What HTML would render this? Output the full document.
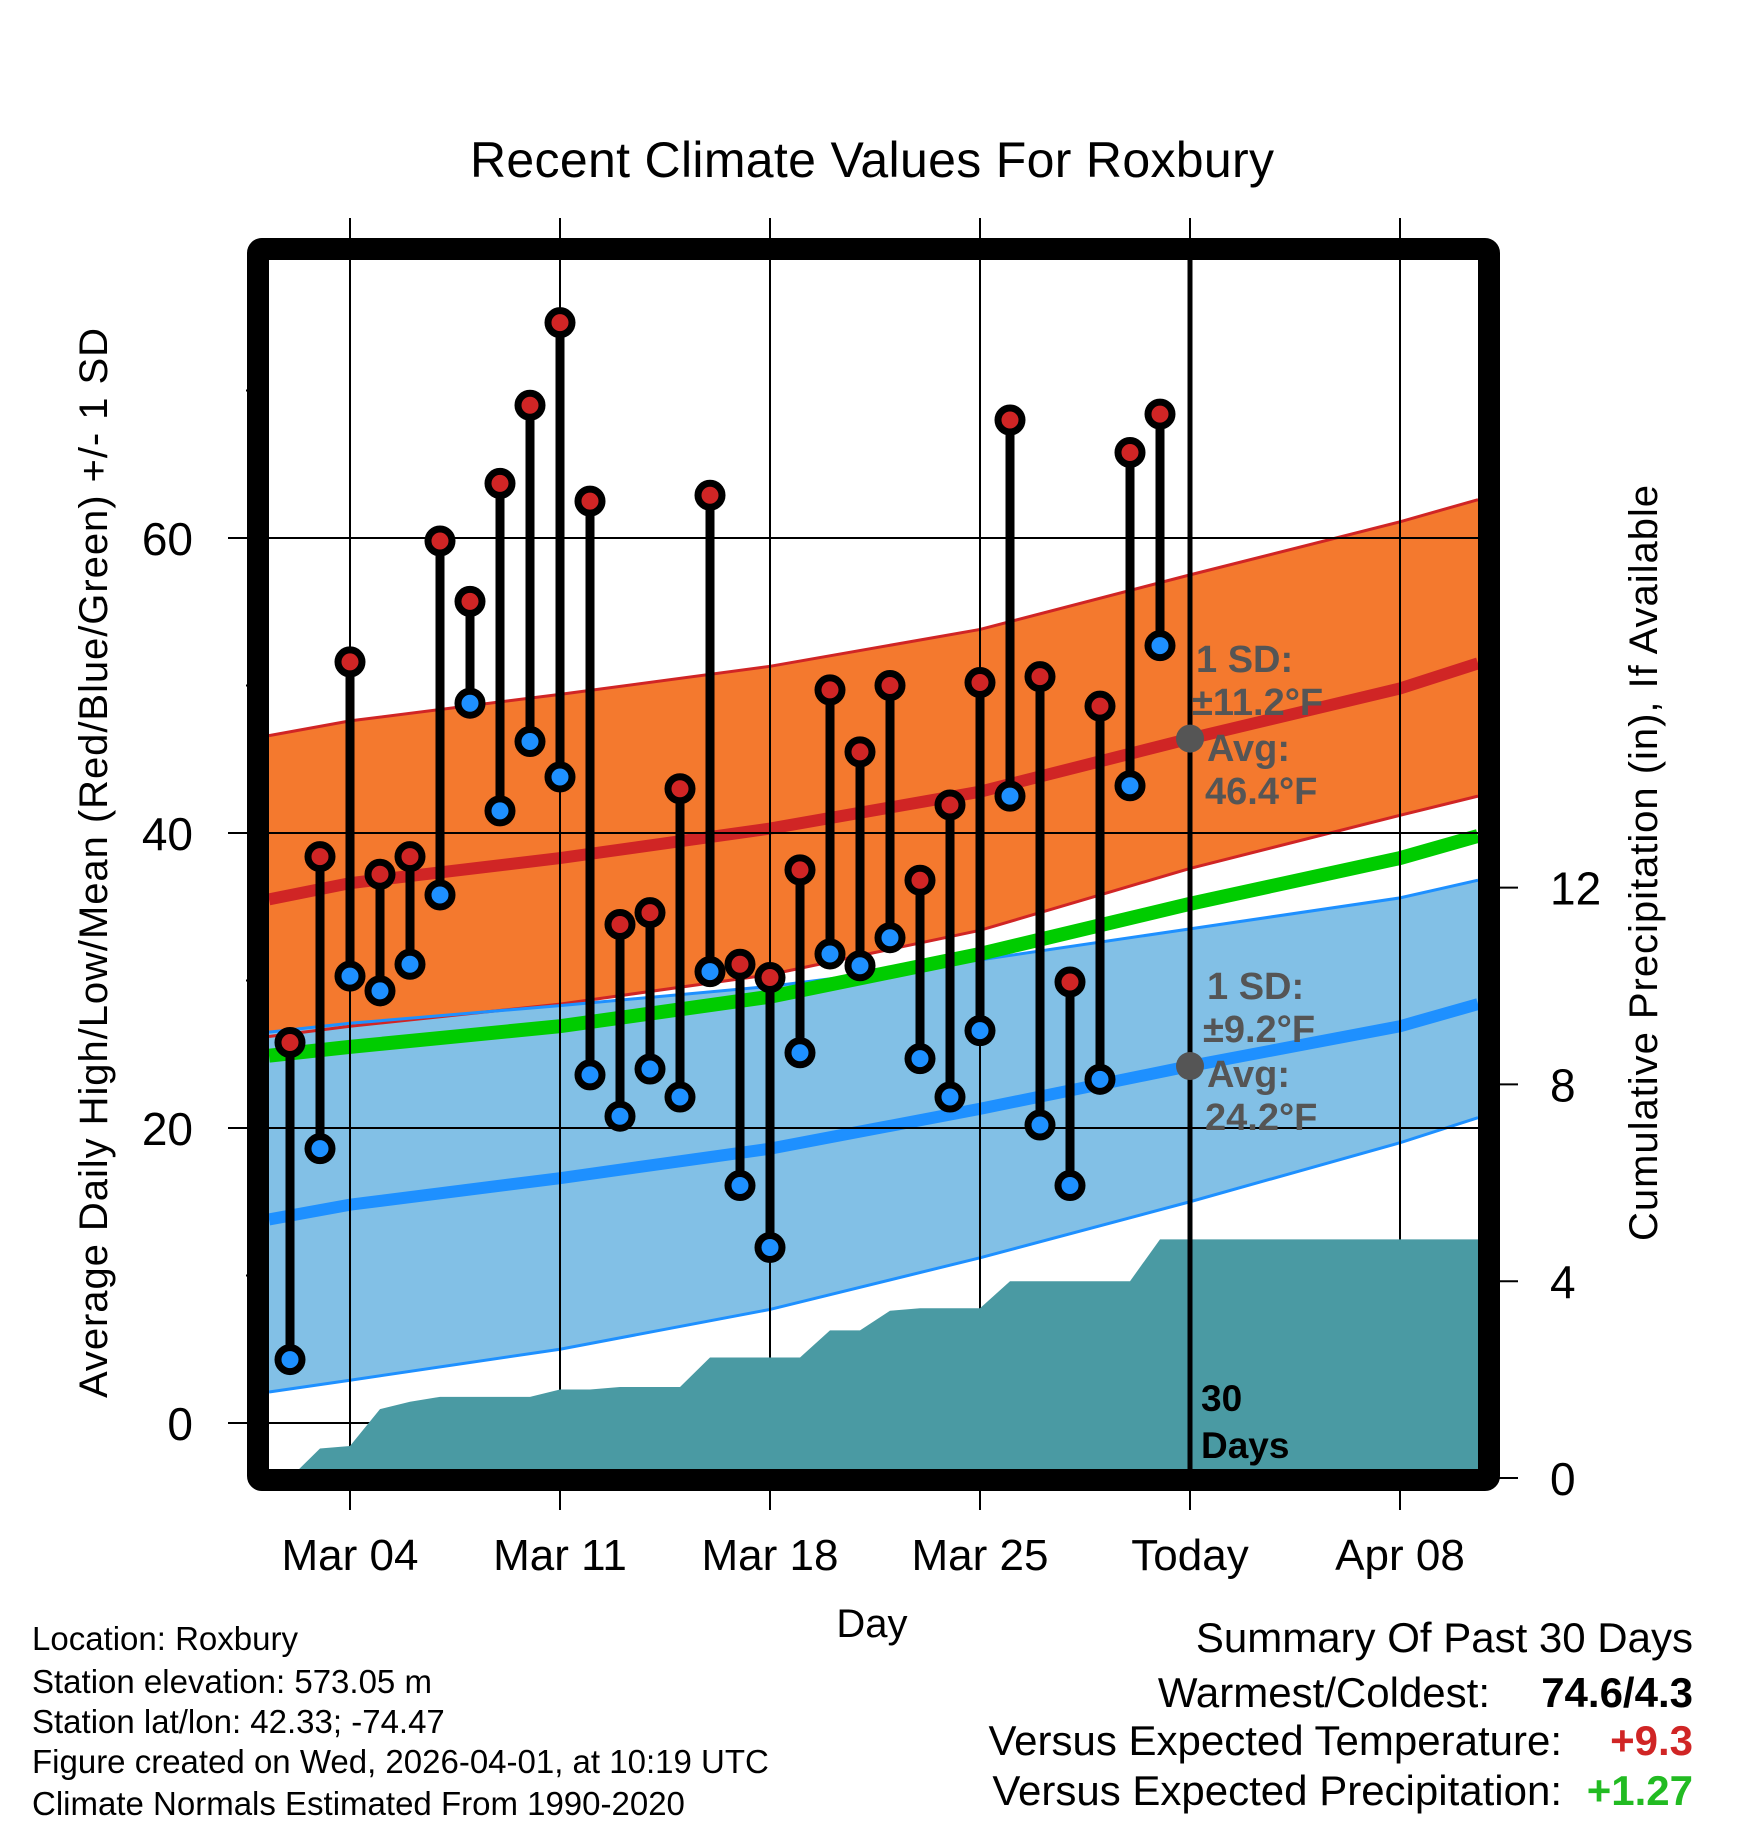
<!DOCTYPE html>
<html><head><meta charset="utf-8"><style>
html,body{margin:0;padding:0;background:#fff;}
svg{display:block;font-family:"Liberation Sans",Arial,sans-serif;}
</style></head><body>
<svg id="chart" width="1748" height="1828" viewBox="0 0 1748 1828" xmlns="http://www.w3.org/2000/svg">
<g id="bands"></g><g id="grid"></g><g id="precip"></g><g id="stems"></g><g id="frame"></g><g id="labels"></g>
</svg>
<script>
// ---- data ----
const dayLabels = ["Mar 04","Mar 11","Mar 18","Mar 25","Today","Apr 08"];
const dayTicks = [3,10,17,24,31,38];             // days since Mar 1
const obsDays = [1,2,3,4,5,6,7,8,9,10,11,12,13,14,15,16,17,18,19,20,21,22,23,24,25,26,27,28,29,30];
const highs = [25.8,38.4,51.6,37.2,38.4,59.8,55.7,63.7,69.0,74.6,62.5,33.8,34.6,43.0,62.9,31.1,30.2,37.5,49.7,45.5,50.0,36.8,41.9,50.2,68.0,50.6,29.9,48.6,65.8,68.4];
const lows  = [4.3,18.6,30.3,29.3,31.1,35.8,48.8,41.5,46.2,43.8,23.6,20.8,24.0,22.1,30.6,16.1,11.9,25.1,31.8,31.0,32.9,24.7,22.1,26.6,42.5,20.2,16.1,23.3,43.2,52.7];
const normDays = [0.3,3,10,17,24,31,38,40.6];
const normHigh = [35.5,36.6,38.3,40.3,42.8,46.4,49.8,51.5];
const highUpper = [46.6,47.6,49.4,51.3,53.8,57.5,61.1,62.6];
const highLower = [26.2,26.9,28.4,30.4,33.4,37.6,41.2,42.5];
const normLow = [13.8,14.8,16.6,18.6,21.3,24.2,26.9,28.4];
const lowUpper = [26.5,27.1,28.3,29.6,31.4,33.5,35.6,36.8];
const lowLower = [2.1,2.9,5.0,7.7,11.2,15.0,19.0,20.7];
const normMean = [24.9,25.5,26.9,28.9,31.8,35.2,38.3,39.8];
const precipDays = [0.3,1,2,3,4,5,6,7,8,9,10,11,12,13,14,15,16,17,18,19,20,21,22,23,24,25,26,27,28,29,30,31,40.6];
const precipVals = [0,0,0.6,0.65,1.4,1.55,1.65,1.65,1.65,1.65,1.8,1.8,1.85,1.85,1.85,2.45,2.45,2.45,2.45,3.0,3.0,3.4,3.45,3.45,3.45,4.0,4.0,4.0,4.0,4.0,4.85,4.85,4.85];
const tempTicks = [0,20,40,60];
const minorTicks = [10,30,50,70];
const precipTicks = [0,4,8,12];

// ---- axes ----
const X0=269,X1=1478,Y0=260,Y1=1469;
const x = d => 260 + d*30;
const y = v => 1423 - v*14.75;
const py = p => 1478 - p*49.2;
const NS="http://www.w3.org/2000/svg";
function mk(tag, parent, attrs){const e=document.createElementNS(NS,tag);for(const k in attrs)e.setAttribute(k,attrs[k]);document.getElementById(parent).appendChild(e);return e;}
function band(up,lo){let s="";normDays.forEach((d,i)=>s+=(i?"L":"M")+x(d)+","+y(up[i]));for(let i=normDays.length-1;i>=0;i--)s+="L"+x(normDays[i])+","+y(lo[i]);return s+"Z";}
function line(arr){let s="";normDays.forEach((d,i)=>s+=(i?"L":"M")+x(d)+","+y(arr[i]));return s;}

let e;
e=mk("path","bands",{d:band(highUpper,highLower),fill:"#f4792e"});


e=mk("path","bands",{d:band(lowUpper,lowLower),fill:"#82c0e6"});


[[highUpper,"#d02525",3],[highLower,"#d02525",3],[lowUpper,"#1e90ff",3],[lowLower,"#1e90ff",3]].forEach(a=>{
  e=mk("path","bands",{d:line(a[0]),fill:"none",stroke:a[1],"stroke-width":a[2]});
  
  
});
e=mk("path","bands",{d:line(normMean),fill:"none",stroke:"#00cc00","stroke-width":14});


e=mk("path","bands",{d:line(normHigh),fill:"none",stroke:"#d02525","stroke-width":12});


e=mk("path","bands",{d:line(normLow),fill:"none",stroke:"#1e90ff","stroke-width":12});



// grid
tempTicks.forEach(v=>{
  e=mk("line","grid",{x1:228,x2:X1,y1:y(v),y2:y(v),stroke:"#000","stroke-width":2});
  
  
  e=mk("text","labels",{x:193,y:y(v)+17,"font-size":46,"text-anchor":"end"});e.textContent=v;
  
  
});
minorTicks.forEach(v=>{
  e=mk("line","grid",{x1:246,x2:X0,y1:y(v),y2:y(v),stroke:"#000","stroke-width":2});
  
  
});
dayTicks.forEach((d,i)=>{
  e=mk("line","grid",{x1:x(d),x2:x(d),y1:218,y2:1510,stroke:"#000","stroke-width":2});
  
  
  e=mk("text","labels",{x:x(d),y:1570,"font-size":44,"text-anchor":"middle"});e.textContent=dayLabels[i];
  
  
});
precipTicks.forEach(p=>{
  e=mk("line","grid",{x1:X1,x2:1518,y1:py(p),y2:py(p),stroke:"#000","stroke-width":2});
  
  
  e=mk("text","labels",{x:1550,y:py(p)+17,"font-size":46}); e.textContent=p;
  
  
});

// precip area
let ps="M"+x(precipDays[0])+","+Y1;
precipDays.forEach((d,i)=>ps+="L"+x(d)+","+py(precipVals[i]));
ps+="L"+x(precipDays[precipDays.length-1])+","+Y1+"Z";
e=mk("path","precip",{d:ps,fill:"#4a9aa3"});



// today line
e=mk("line","precip",{x1:x(31),x2:x(31),y1:Y0,y2:Y1,stroke:"#000","stroke-width":5});



// stems
obsDays.forEach((d,i)=>{
  e=mk("line","stems",{x1:x(d),x2:x(d),y1:y(highs[i]),y2:y(lows[i]),stroke:"#000","stroke-width":9});
  
  
  e=mk("circle","stems",{cx:x(d),cy:y(lows[i]),r:12,fill:"#1e90ff",stroke:"#000","stroke-width":7});
  
  
  e=mk("circle","stems",{cx:x(d),cy:y(highs[i]),r:12,fill:"#d02525",stroke:"#000","stroke-width":7});
  
  
});
// today avg dots
[46.4,24.2].forEach(v=>{
  e=mk("circle","stems",{cx:x(31),cy:y(v),r:14,fill:"#555"});
  
  
});

// frame
e=mk("rect","frame",{x:258,y:249,width:1231,height:1231,fill:"none",stroke:"#000","stroke-width":22,rx:4});


</script>
<script>
(function(){
const NS="http://www.w3.org/2000/svg";
const g=document.getElementById("labels");
function t(txt,attrs,name){const e=document.createElementNS(NS,"text");for(const k in attrs)e.setAttribute(k,attrs[k]);e.textContent=txt;g.appendChild(e);


return e;}
t("Recent Climate Values For Roxbury",{x:872,y:177,"font-size":50,"text-anchor":"middle",textLength:804},"chart-title");
t("Average Daily High/Low/Mean (Red/Blue/Green) +/- 1 SD",{x:0,y:0,"font-size":40,"text-anchor":"middle",textLength:1070,transform:"translate(107,863) rotate(-90)"},"y-axis-title");
t("Cumulative Precipitation (in), If Available",{x:0,y:0,"font-size":40,"text-anchor":"middle",textLength:756,transform:"translate(1657,863) rotate(-90)"},"y2-axis-title");
t("Day",{x:872,y:1637,"font-size":40,"text-anchor":"middle"},"x-axis-title");
const sd={"font-size":38,"font-weight":"bold",fill:"#555"};
t("1 SD:",Object.assign({x:1196,y:672},sd),"high-sd-label");
t("±11.2°F",Object.assign({x:1192,y:715},sd),"high-sd-value");
t("Avg:",Object.assign({x:1207,y:761},sd),"high-avg-label");
t("46.4°F",Object.assign({x:1205,y:804},sd),"high-avg-value");
t("1 SD:",Object.assign({x:1207,y:999},sd),"low-sd-label");
t("±9.2°F",Object.assign({x:1203,y:1042},sd),"low-sd-value");
t("Avg:",Object.assign({x:1207,y:1087},sd),"low-avg-label");
t("24.2°F",Object.assign({x:1205,y:1130},sd),"low-avg-value");
t("30",{x:1201,y:1411,"font-size":37,"font-weight":"bold"},"days-count");
t("Days",{x:1201,y:1458,"font-size":37,"font-weight":"bold"},"days-label");
const info=["Location: Roxbury","Station elevation: 573.05 m","Station lat/lon: 42.33; -74.47","Figure created on Wed, 2026-04-01, at 10:19 UTC","Climate Normals Estimated From 1990-2020"];
const iy=[1650,1693,1733,1773,1815];
info.forEach((s,i)=>t(s,{x:32,y:iy[i],"font-size":33},"station-info-line"));
t("Summary Of Past 30 Days",{x:1693,y:1652,"font-size":42,"text-anchor":"end"},"summary-title");
t("Warmest/Coldest:",{x:1490,y:1707,"font-size":42,"text-anchor":"end"},"warmest-coldest-label");
t("74.6/4.3",{x:1693,y:1707,"font-size":42,"font-weight":"bold","text-anchor":"end"},"warmest-coldest-value");
t("Versus Expected Temperature:",{x:1562,y:1755,"font-size":42,"text-anchor":"end"},"temp-anomaly-label");
t("+9.3",{x:1693,y:1755,"font-size":42,"font-weight":"bold","text-anchor":"end",fill:"#d02525"},"temp-anomaly-value");
t("Versus Expected Precipitation:",{x:1562,y:1805,"font-size":42,"text-anchor":"end"},"precip-anomaly-label");
t("+1.27",{x:1693,y:1805,"font-size":42,"font-weight":"bold","text-anchor":"end",fill:"#22bb22"},"precip-anomaly-value");
})();
</script>
</body></html>
